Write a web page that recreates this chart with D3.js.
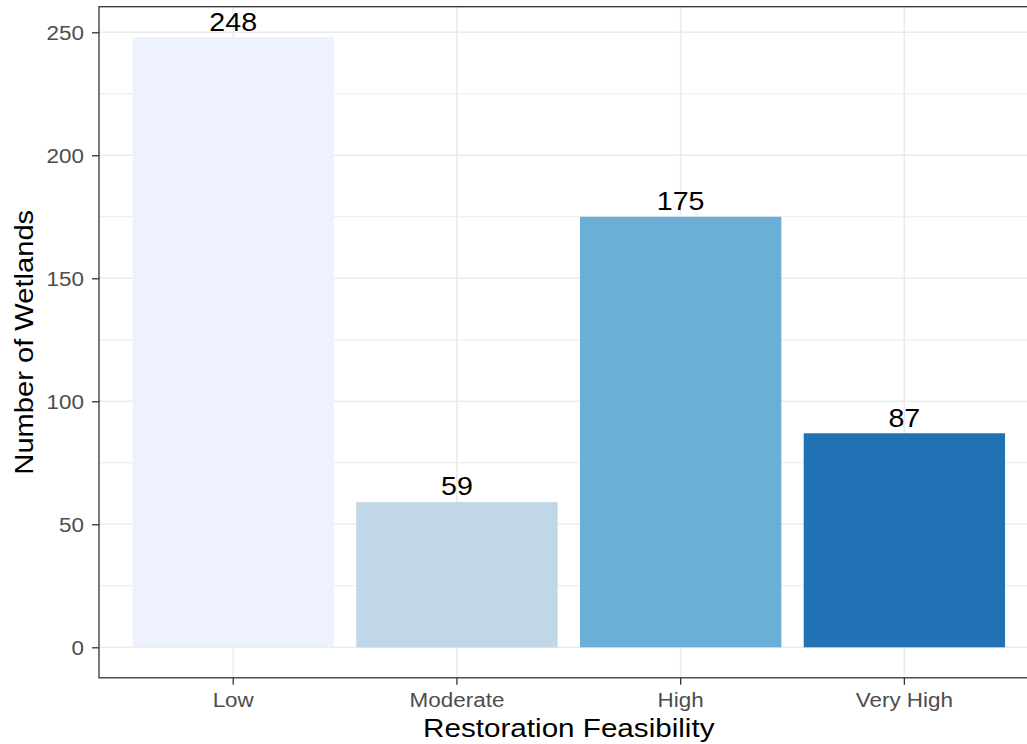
<!DOCTYPE html>
<html><head><meta charset="utf-8">
<script src="https://cdn.jsdelivr.net/npm/d3@7"></script>
<style>
html,body{margin:0;padding:0;background:#fff;overflow:hidden;}
svg{display:block;font-family:"Liberation Sans",Arial,sans-serif;}
</style></head>
<body>
<svg id="chart" width="1027" height="744"></svg>
<script>
const categories = ["Low", "Moderate", "High", "Very High"];
const counts = [248, 59, 175, 87];
const barColors = ["#EEF2FE", "#BFD7E6", "#6BAED6", "#2171B5"];
const yTicks = [0, 50, 100, 150, 200, 250];
const yMinorTicks = [25, 75, 125, 175, 225];
const xTitle = "Restoration Feasibility";
const yTitle = "Number of Wetlands";

(function () {
const svg = d3.select("#chart");
const pLeft = 99, pRight = 1038.6, pTop = 6.7, pBottom = 677.8;
const stretch = 1.1, tickStretch = 1.07;

const x = d3.scaleBand().domain(categories).range([pLeft, pRight]).paddingInner(0.1).paddingOuter(0.15);
const yMax = d3.max(counts);
const pad = yMax * 0.05;
const y = d3.scaleLinear().domain([-pad, yMax + pad]).range([pBottom, pTop]);

const grid = svg.append("g");
grid.selectAll("line.minor").data(yMinorTicks).join("line")
  .attr("x1", pLeft).attr("x2", pRight)
  .attr("y1", d => y(d)).attr("y2", d => y(d))
  .attr("stroke", "#EBEBEB").attr("stroke-width", 1);
grid.selectAll("line.major").data(yTicks).join("line")
  .attr("x1", pLeft).attr("x2", pRight)
  .attr("y1", d => y(d)).attr("y2", d => y(d))
  .attr("stroke", "#EBEBEB").attr("stroke-width", 1.6);
grid.selectAll("line.vmajor").data(categories).join("line")
  .attr("y1", pTop).attr("y2", pBottom)
  .attr("x1", d => x(d) + x.bandwidth() / 2).attr("x2", d => x(d) + x.bandwidth() / 2)
  .attr("stroke", "#EBEBEB").attr("stroke-width", 1.6);

svg.append("g").selectAll("rect").data(categories).join("rect")
  .attr("x", d => x(d))
  .attr("width", x.bandwidth())
  .attr("y", (d, i) => y(counts[i]))
  .attr("height", (d, i) => y(0) - y(counts[i]))
  .attr("fill", (d, i) => barColors[i]);

svg.append("g").selectAll("text").data(categories).join("text")
  .attr("transform", (d, i) => `translate(${x(d) + x.bandwidth() / 2},${y(counts[i]) - 6.7}) scale(${stretch},1)`)
  .attr("text-anchor", "middle")
  .attr("font-size", 26)
  .attr("fill", "#000")
  .text((d, i) => counts[i]);

svg.append("rect")
  .attr("x", pLeft).attr("y", pTop)
  .attr("width", pRight - pLeft).attr("height", pBottom - pTop)
  .attr("fill", "none").attr("stroke", "#333333").attr("stroke-width", 1.3);

const yAxis = svg.append("g").attr("transform", `translate(${pLeft},0)`)
  .call(d3.axisLeft(y).tickValues(yTicks).tickSize(7).tickPadding(8));
const xAxis = svg.append("g").attr("transform", `translate(0,${pBottom})`)
  .call(d3.axisBottom(x).tickSize(7).tickPadding(6));
[yAxis, xAxis].forEach(a => {
  a.select(".domain").remove();
  a.selectAll(".tick line").attr("stroke", "#333333").attr("stroke-width", 1.3);
  a.selectAll(".tick text").attr("fill", "#4D4D4D").attr("font-size", 21)
    .attr("font-family", "Liberation Sans, Arial, sans-serif")
    .attr("transform", `scale(${tickStretch},1)`);
});
yAxis.selectAll(".tick text").attr("dy", "0.36em").attr("x", -15 / tickStretch);
xAxis.selectAll(".tick text").attr("y", 14);

svg.append("text")
  .attr("transform", `translate(${(pLeft + pRight) / 2},736.5) scale(1.14,1)`)
  .attr("text-anchor", "middle").attr("font-size", 26).attr("fill", "#000")
  .text(xTitle);

svg.append("text")
  .attr("transform", `translate(33,${(pTop + pBottom) / 2}) rotate(-90) scale(1.12,1)`)
  .attr("text-anchor", "middle").attr("font-size", 26).attr("fill", "#000")
  .text(yTitle);
})();
</script>
</body></html>
